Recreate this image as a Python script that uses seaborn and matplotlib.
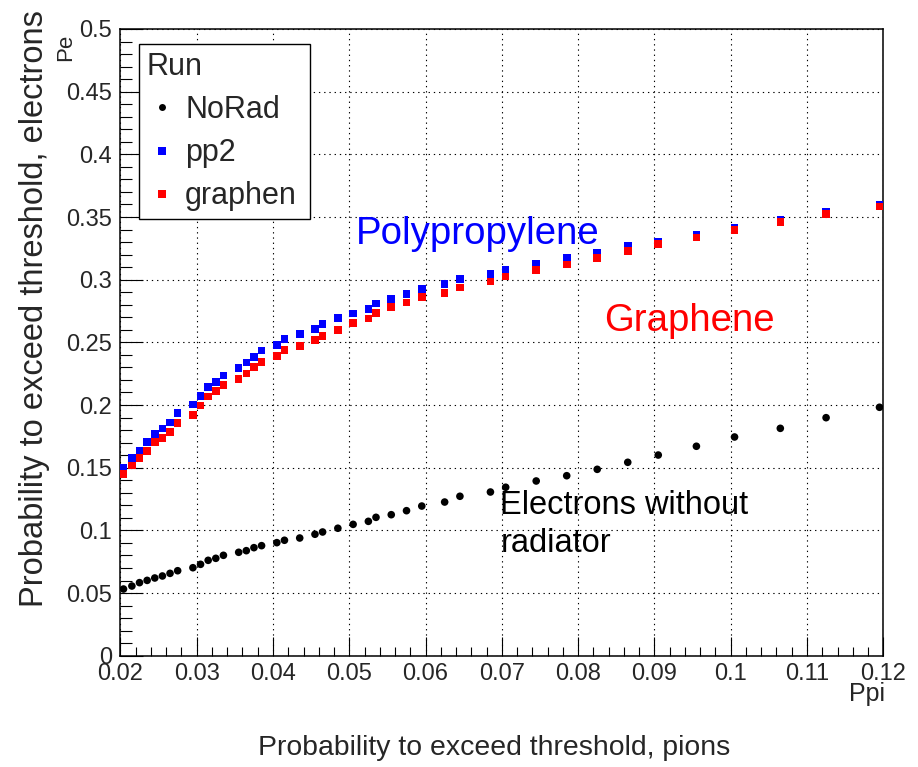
import numpy as np
import pandas as pd
import matplotlib
matplotlib.use("Agg")
import matplotlib.pyplot as plt
from matplotlib.lines import Line2D
from matplotlib.ticker import MultipleLocator, FuncFormatter
import seaborn as sns

# Probability for pions to exceed the threshold (shared by all runs)
ppi = [0.0204, 0.0215, 0.0225, 0.0235, 0.0245, 0.0255, 0.0265, 0.0275, 0.0295,
       0.0305, 0.0315, 0.0325, 0.0335, 0.0355, 0.0365, 0.0375, 0.0385, 0.0405,
       0.0415, 0.0435, 0.0455, 0.0465, 0.0485, 0.0505, 0.0525, 0.0535, 0.0555,
       0.0575, 0.0595, 0.0625, 0.0645, 0.0685, 0.0705, 0.0745, 0.0785, 0.0825,
       0.0865, 0.0905, 0.0955, 0.1005, 0.1065, 0.1125, 0.1195]

# Probability for electrons to exceed the threshold, per run
pe_norad = [0.0532, 0.0556, 0.0583, 0.0601, 0.0620, 0.0636, 0.0657, 0.0678, 0.0702,
            0.0729, 0.0761, 0.0777, 0.0801, 0.0825, 0.0838, 0.0862, 0.0878, 0.0902,
            0.0921, 0.0939, 0.0969, 0.0987, 0.1017, 0.1048, 0.1072, 0.1104, 0.1125,
            0.1157, 0.1194, 0.1226, 0.1272, 0.1306, 0.1344, 0.1394, 0.1436, 0.1487,
            0.1543, 0.1601, 0.1671, 0.1745, 0.1814, 0.1899, 0.1982]
pe_pp2 = [0.1498, 0.1575, 0.1633, 0.1703, 0.1769, 0.1814, 0.1862, 0.1934, 0.2003,
          0.2072, 0.2144, 0.2186, 0.2237, 0.2293, 0.2338, 0.2383, 0.2434, 0.2477,
          0.2527, 0.2567, 0.2607, 0.2647, 0.2692, 0.2729, 0.2766, 0.2809, 0.2846,
          0.2886, 0.2926, 0.2966, 0.3006, 0.3043, 0.3080, 0.3128, 0.3171, 0.3216,
          0.3269, 0.3305, 0.3357, 0.3417, 0.3475, 0.3540, 0.3600]
pe_graphen = [0.1450, 0.1516, 0.1575, 0.1633, 0.1703, 0.1739, 0.1785, 0.1857, 0.1921,
              0.1995, 0.2067, 0.2112, 0.2160, 0.2210, 0.2253, 0.2301, 0.2343, 0.2391,
              0.2437, 0.2473, 0.2517, 0.2553, 0.2599, 0.2652, 0.2689, 0.2732, 0.2780,
              0.2817, 0.2860, 0.2896, 0.2939, 0.2987, 0.3024, 0.3075, 0.3120, 0.3171,
              0.3229, 0.3285, 0.3338, 0.3397, 0.3460, 0.3524, 0.3583]

runs = ["NoRad", "pp2", "graphen"]
run_colors = {"NoRad": "black", "pp2": "#0000ff", "graphen": "#ff0000"}
run_markers = {"NoRad": "o", "pp2": "s", "graphen": "s"}

df = pd.concat([
    pd.DataFrame({"Ppi": ppi, "Pe": pe_norad, "Run": "NoRad"}),
    pd.DataFrame({"Ppi": ppi, "Pe": pe_pp2, "Run": "pp2"}),
    pd.DataFrame({"Ppi": ppi, "Pe": pe_graphen, "Run": "graphen"}),
], ignore_index=True)

sns.set_style("white")
plt.rcParams["font.family"] = ["Liberation Sans", "DejaVu Sans"]
plt.rcParams["axes.linewidth"] = 1.1

fig = plt.figure(figsize=(9.18, 7.67), dpi=100)
ax = fig.add_axes([0.1312, 0.1451, 0.8310, 0.8171])

sns.scatterplot(data=df, x="Ppi", y="Pe", hue="Run", style="Run",
                palette=run_colors, markers=run_markers, s=30,
                linewidth=0, edgecolor="none", legend=False, ax=ax, zorder=3)

ax.set_xlim(0.02, 0.12)
ax.set_ylim(0, 0.5)

ax.xaxis.set_major_locator(MultipleLocator(0.01))
ax.xaxis.set_minor_locator(MultipleLocator(0.002))
ax.yaxis.set_major_locator(MultipleLocator(0.05))
ax.yaxis.set_minor_locator(MultipleLocator(0.01))
fmt = FuncFormatter(lambda v, p: f"{round(v, 4):g}")
ax.xaxis.set_major_formatter(fmt)
ax.yaxis.set_major_formatter(fmt)

ax.tick_params(axis="both", which="both", direction="in", bottom=True, left=True,
               top=False, right=False, color="black", width=0.8)
ax.tick_params(axis="x", which="major", length=13.5, pad=5, labelsize=17)
ax.tick_params(axis="x", which="minor", length=6.8)
ax.tick_params(axis="y", which="major", length=16.5, pad=6, labelsize=17)
ax.tick_params(axis="y", which="minor", length=8.3)
for s in ax.spines.values():
    s.set_color("black")
    s.set_visible(True)

ax.grid(True, which="major", color="black", linestyle=(0, (1.2, 3.5)), linewidth=0.8)
ax.set_axisbelow(True)

ax.set_xlabel("Probability to exceed threshold, pions", fontsize=20.4)
ax.xaxis.label.set_va("baseline")
ax.xaxis.set_label_coords(0.4904, -0.1584)

ax.set_ylabel("Probability to exceed threshold, electrons", fontsize=23.5)
ax.yaxis.label.set_rotation_mode("anchor")
ax.yaxis.label.set_va("baseline")
ax.yaxis.label.set_ha("center")
ax.yaxis.set_label_coords(-0.101, 0.554)

# short axis variable names at the axis ends
ax.text(-0.0713, 0.9700, "Pe", rotation=90, fontsize=16, ha="center", va="center",
        transform=ax.transAxes)
ax.text(1.0021, -0.0723, "Ppi", fontsize=18, ha="right", va="baseline",
        transform=ax.transAxes)

# run annotations
ax.text(0.0509, 0.3285, "Polypropylene", color="#0000ff", fontsize=27.6,
        ha="left", va="baseline")
ax.text(0.0834, 0.2594, "Graphene", color="#ff0000", fontsize=27.6,
        ha="left", va="baseline")
ax.text(0.0698, 0.1131, "Electrons without", color="black", fontsize=23.5,
        ha="left", va="baseline")
ax.text(0.0698, 0.0830, "radiator", color="black", fontsize=23.5,
        ha="left", va="baseline")

handles = [Line2D([], [], linestyle="none", marker=run_markers[r],
                  markersize=5.0 if run_markers[r] == "o" else 5.3,
                  markerfacecolor=run_colors[r], markeredgewidth=0,
                  label=r) for r in runs]
leg = ax.legend(handles=handles, title="Run", loc="upper left",
                bbox_to_anchor=(0.0248, 0.9756, 0.2238, 0.0), mode="expand",
                borderaxespad=0, fontsize=22, title_fontsize=22, alignment="left",
                frameon=True, fancybox=False, framealpha=1, edgecolor="black",
                borderpad=0.25, handlelength=1.0, handletextpad=0.25,
                labelspacing=0.43)
leg.get_frame().set_linewidth(1.0)

fig.savefig("out.png", dpi=100)
